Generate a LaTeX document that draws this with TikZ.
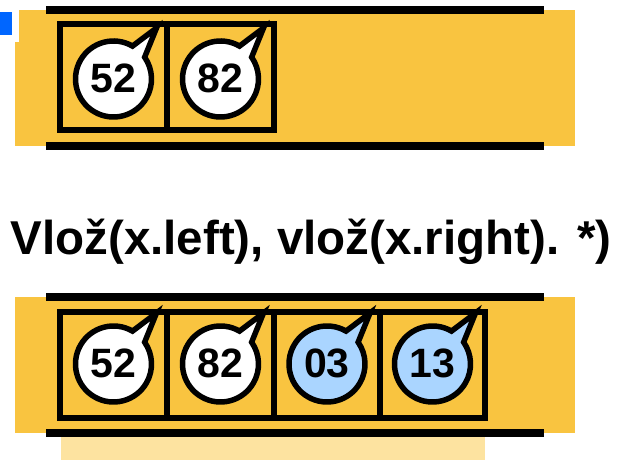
\documentclass[tikz,border=0pt]{standalone}
\usepackage{fontspec}
\setmainfont{Liberation Sans}
\definecolor{panelorange}{RGB}{249, 196, 64}
\definecolor{palestrip}{RGB}{253, 227, 160}
\definecolor{keyblue}{RGB}{170, 213, 255}
\definecolor{markblue}{RGB}{0, 102, 255}

\begin{document}
\begin{tikzpicture}[x=1pt, y=1pt,
        panel/.style={fill=panelorange},
        bar/.style={draw=black, line width=8.5pt},
        cell/.style={draw, line width=5.5pt, minimum width=107pt, minimum height=106pt, inner sep=0pt},
        num/.style={font=\fontsize{41}{45}\selectfont\bfseries, inner sep=0pt},
        heading/.style={font=\fontsize{47.5}{52}\selectfont\bfseries, inner sep=0pt, anchor=base},
        bubble/.pic={\filldraw[fill=#1, line width=5.5pt] (60:38) arc[start angle=60, end angle=395, radius=38] -- (43,51) -- cycle;}
    ]
        \useasboundingbox (0,0) rectangle (623,460);

        % Top queue
        \fill[panel] (15,314) rectangle (575,450);
        \fill[white] (12,418) rectangle (19,450);
        \fill[markblue] (0,425) rectangle (12,448);
        \draw[bar] (46,450) -- (544,450);
        \draw[bar] (46,314) -- (544,314);
        \node (c1) [cell] at (113.5,383) {};
        \node (c2) [cell] at (220.5,383) {};
        \pic at (113.5,381) {bubble=white};
        \pic at (220.5,381) {bubble=white};
        \node (top1) [num] at (113.5,382) {52};
        \node (top2) [num] at (220.5,382) {82};

        % Caption
        \node (title) [heading] at (311,205) {Vlož(x.left), vlož(x.right). *)};

        % Bottom queue
        \fill[panel] (15,27) rectangle (575,163);
        \fill[palestrip] (61,0) rectangle (485,23);
        \draw[bar] (46,163) -- (544,163);
        \draw[bar] (46,27) -- (544,27);
        \node (d1) [cell] at (113.5,95) {};
        \node (d2) [cell] at (220.5,95) {};
        \node (d3) [cell, minimum width=106pt] at (327,95) {};
        \node (d4) [cell, minimum width=105pt] at (432.5,95) {};
        \pic at (113.5,96) {bubble=white};
        \pic at (220.5,96) {bubble=white};
        \pic at (327,96) {bubble=keyblue};
        \pic at (432.5,96) {bubble=keyblue};
        \node (bot1) [num] at (113.5,97) {52};
        \node (bot2) [num] at (220.5,97) {82};
        \node (bot3) [num] at (327,97) {03};
        \node (bot4) [num] at (432.5,97) {13};
\end{tikzpicture}
\end{document}
